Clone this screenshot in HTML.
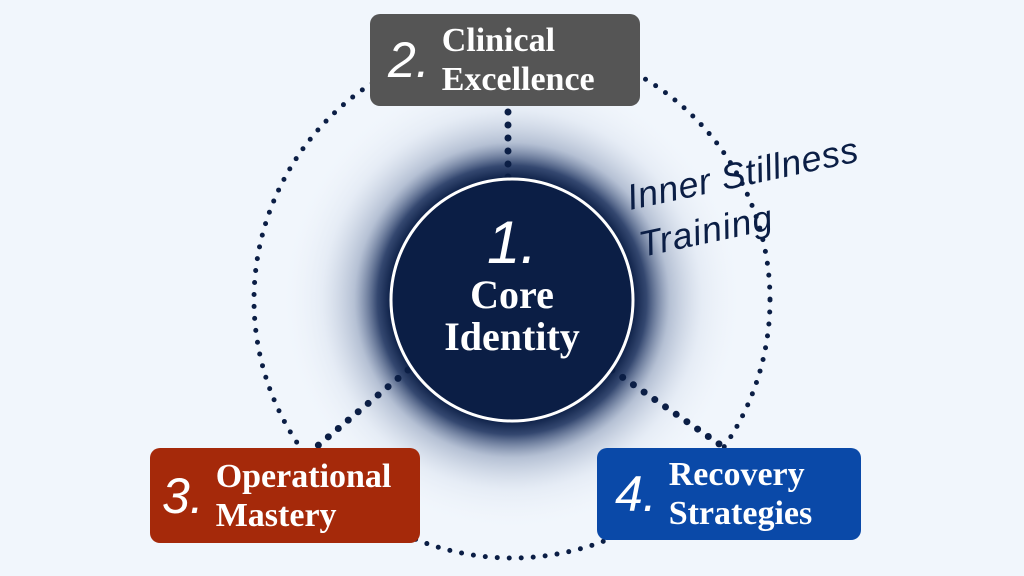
<!DOCTYPE html>
<html><head><style>
body{margin:0;width:1024px;height:576px;background:#f1f6fc;overflow:hidden;position:relative;font-family:"Liberation Serif",serif}
.box{position:absolute;border-radius:10px;color:#fff;display:flex;align-items:center}
.num{font-family:"Liberation Sans",sans-serif;font-style:italic;font-weight:300;font-size:50px;margin-right:12px}
.lbl{font-weight:bold;font-size:34px;line-height:39px}
</style></head><body>
<svg width="1024" height="576" style="position:absolute;left:0;top:0">
<defs><radialGradient id="g" cx="0.5" cy="0.5" r="0.5">
<stop offset="0.52" stop-color="#0b1e45"/><stop offset="0.58" stop-color="#1f3460" stop-opacity="0.9"/><stop offset="0.68" stop-color="#6c7fa3" stop-opacity="0.45"/><stop offset="0.82" stop-color="#c4cfe2" stop-opacity="0.25"/><stop offset="1" stop-color="#f1f6fc" stop-opacity="0"/></radialGradient></defs>
<circle cx="512" cy="300" r="232" fill="url(#g)"/>
<circle cx="512" cy="300" r="258" fill="none" stroke="#0b1e45" stroke-width="5" stroke-linecap="round" stroke-dasharray="0 12"/>
<g stroke="#0b1e45" stroke-width="7" stroke-linecap="round" stroke-dasharray="0 13">
<line x1="508" y1="112" x2="508" y2="180"/>
<line x1="408" y1="370" x2="315" y2="448"/>
<line x1="612" y1="370" x2="725" y2="448"/>
</g>
<circle cx="512" cy="300" r="121" fill="#0b1e45" stroke="#fff" stroke-width="3"/>
<text x="630" y="210" font-family="Liberation Sans" font-style="italic" font-size="36" fill="#0b1e45" textLength="235" transform="rotate(-12 630 210)">Inner Stillness</text>
<text x="642" y="257" font-family="Liberation Sans" font-style="italic" font-size="36" fill="#0b1e45" textLength="135" transform="rotate(-12 642 257)">Training</text>
</svg>
<div style="position:absolute;left:390px;top:212px;width:244px;text-align:center;color:#fff">
<div style="font-family:'Liberation Sans';font-style:italic;font-weight:300;font-size:60px;line-height:62px">1.</div>
<div style="font-weight:bold;font-size:40px;line-height:42px">Core<br>Identity</div></div>
<div class="box" style="left:370px;top:14px;width:270px;height:92px;background:#555"><span class="num" style="margin-left:18px">2.</span><span class="lbl">Clinical<br>Excellence</span></div>
<div class="box" style="left:150px;top:448px;width:270px;height:95px;background:#a5290a"><span class="num" style="margin-left:12px">3.</span><span class="lbl">Operational<br>Mastery</span></div>
<div class="box" style="left:597px;top:448px;width:264px;height:92px;background:#0a49a8"><span class="num" style="margin-left:18px">4.</span><span class="lbl">Recovery<br>Strategies</span></div>
</body></html>
